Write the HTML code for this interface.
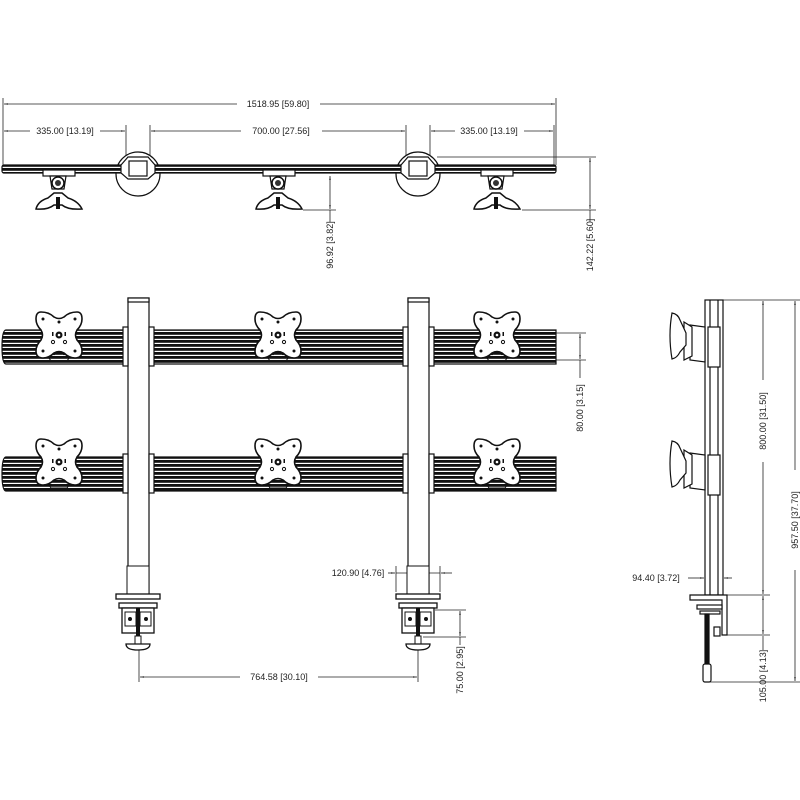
<!DOCTYPE html>
<html><head><meta charset="utf-8"><style>
html,body{margin:0;padding:0;background:#fff}
svg{display:block}
text{font-family:"Liberation Sans",sans-serif;font-size:9px;fill:#222}
</style></head><body>
<svg width="800" height="800" viewBox="0 0 800 800" xmlns="http://www.w3.org/2000/svg">
<defs>
<pattern id="st" width="8" height="4" patternUnits="userSpaceOnUse">
<rect width="8" height="4" fill="#fff"/><rect width="8" height="2.8" fill="#111"/>
</pattern>
<marker id="a" viewBox="0 0 10 10" refX="10" refY="5" markerWidth="5" markerHeight="5" orient="auto-start-reverse"><path d="M0,3 L10,5 L0,7z" fill="#222"/></marker>
<g id="plate">
<path d="M-18,-23 Q-10,-23 -5,-18 Q0,-15 5,-18 Q10,-23 18,-23 Q23,-23 23,-16 Q23,-10 18,-5 Q15,0 18,5 Q23,10 23,16 Q23,23 16,23 Q10,23 5,18 Q0,15 -5,18 Q-10,23 -16,23 Q-23,23 -23,16 Q-23,10 -18,5 Q-15,0 -18,-5 Q-23,-10 -23,-16 Q-23,-23 -18,-23z" fill="#fff" stroke="#111" stroke-width="1.6"/>
<circle cx="0" cy="0" r="3.5" fill="#111"/><circle cx="0" cy="0" r="1.3" fill="#fff"/>
<circle cx="-16" cy="-16" r="1.5" fill="#111"/><circle cx="16" cy="-16" r="1.5" fill="#111"/>
<circle cx="-16" cy="16" r="1.5" fill="#111"/><circle cx="16" cy="16" r="1.5" fill="#111"/>
<circle cx="0" cy="-13" r="1.5" fill="#111"/><circle cx="-6" cy="7" r="1.6" fill="none" stroke="#111"/><circle cx="6" cy="7" r="1.6" fill="none" stroke="#111"/>
<rect x="-7" y="-3" width="1.5" height="4" fill="#111"/><rect x="5.5" y="-3" width="1.5" height="4" fill="#111"/>
<circle cx="-5" cy="19" r="1.2" fill="#111"/><circle cx="5" cy="19" r="1.2" fill="#111"/>
<path d="M-10,23 L-8,26 L8,26 L10,23" fill="none" stroke="#111"/>
</g>
<g id="mount">
<rect x="-15" y="-3" width="32" height="6" fill="#fff" stroke="#111" stroke-width="1.2"/>
<path d="M-8,3 L8,3 L6,16 L-6,16z" fill="#fff" stroke="#111" stroke-width="1.2"/>
<circle cx="0" cy="10" r="6" fill="#fff" stroke="#111" stroke-width="1.5"/><circle cx="0" cy="10" r="3" fill="#333"/>
<path d="M-22,36 Q-20,28 -10,25 L-4,20 L4,20 L10,25 Q20,28 24,36 Q10,37 4,32 L-4,32 Q-10,37 -22,36z" fill="#fff" stroke="#111" stroke-width="1.5"/>
<rect x="-2" y="24" width="4" height="12" fill="#111"/>
</g>
<g id="clamp">
<rect x="-11" y="-32" width="22" height="30" fill="#fff" stroke="#111"/>
<rect x="-22" y="-4" width="44" height="5" fill="#fff" stroke="#111" stroke-width="1.3"/>
<rect x="-19" y="5" width="38" height="5" fill="#fff" stroke="#111" stroke-width="1.3"/>
<rect x="-16" y="10" width="32" height="25" fill="#fff" stroke="#111" stroke-width="1.3"/>
<rect x="-13" y="14" width="11" height="14" fill="#fff" stroke="#111"/><rect x="2" y="14" width="11" height="14" fill="#fff" stroke="#111"/>
<circle cx="-8" cy="21" r="2" fill="#111"/><circle cx="8" cy="21" r="2" fill="#111"/>
<rect x="-2" y="10" width="4" height="32" fill="#111"/>
<rect x="-3" y="38" width="6" height="8" fill="#fff" stroke="#111"/>
<path d="M-12,46 L12,46 Q12,52 0,52 Q-12,52 -12,46z" fill="#fff" stroke="#111" stroke-width="1.3"/>
</g>
</defs>
<g stroke="#222" stroke-width="0.8" fill="none">
<line x1="3" y1="98" x2="3" y2="170"/><line x1="556" y1="98" x2="556" y2="165"/>
<line x1="4" y1="104" x2="237" y2="104" marker-start="url(#a)"/><line x1="320" y1="104" x2="555" y2="104" marker-end="url(#a)"/>
<line x1="126" y1="125" x2="126" y2="160"/><line x1="150" y1="125" x2="150" y2="160"/>
<line x1="406" y1="125" x2="406" y2="160"/><line x1="430" y1="125" x2="430" y2="160"/><line x1="554" y1="125" x2="554" y2="165"/>
<line x1="4" y1="131" x2="30" y2="131" marker-start="url(#a)"/><line x1="100" y1="131" x2="125" y2="131" marker-end="url(#a)"/>
<line x1="151" y1="131" x2="241" y2="131" marker-start="url(#a)"/><line x1="322" y1="131" x2="405" y2="131" marker-end="url(#a)"/>
<line x1="431" y1="131" x2="455" y2="131" marker-start="url(#a)"/><line x1="524" y1="131" x2="553" y2="131" marker-end="url(#a)"/>
<line x1="303" y1="210" x2="336" y2="210"/><line x1="330" y1="176" x2="330" y2="209" marker-start="url(#a)" marker-end="url(#a)"/><line x1="330" y1="210" x2="330" y2="222"/>
<line x1="437" y1="157" x2="596" y2="157"/><line x1="522" y1="210" x2="596" y2="210"/>
<line x1="590" y1="158" x2="590" y2="209" marker-start="url(#a)" marker-end="url(#a)"/><line x1="590" y1="210" x2="590" y2="222"/>
<line x1="540" y1="333" x2="586" y2="333"/><line x1="540" y1="360" x2="586" y2="360"/>
<line x1="580" y1="334" x2="580" y2="359" marker-start="url(#a)" marker-end="url(#a)"/><line x1="580" y1="360" x2="580" y2="378"/>
<line x1="139" y1="650" x2="139" y2="682"/><line x1="418" y1="650" x2="418" y2="682"/>
<line x1="140" y1="677" x2="240" y2="677" marker-start="url(#a)"/><line x1="318" y1="677" x2="417" y2="677" marker-end="url(#a)"/>
<line x1="396" y1="566" x2="396" y2="592"/><line x1="440" y1="566" x2="440" y2="592"/>
<line x1="388" y1="573" x2="395" y2="573" marker-end="url(#a)"/><line x1="441" y1="573" x2="452" y2="573" marker-start="url(#a)"/><line x1="396" y1="573" x2="440" y2="573"/>
<line x1="435" y1="610" x2="466" y2="610"/><line x1="423" y1="637" x2="466" y2="637"/>
<line x1="460" y1="611" x2="460" y2="636" marker-start="url(#a)" marker-end="url(#a)"/><line x1="460" y1="637" x2="460" y2="645"/>
<line x1="723" y1="300" x2="800" y2="300"/><line x1="727" y1="595" x2="770" y2="595"/><line x1="727" y1="635" x2="770" y2="635"/><line x1="710" y1="682" x2="800" y2="682"/>
<line x1="763" y1="301" x2="763" y2="380" marker-start="url(#a)"/><line x1="763" y1="462" x2="763" y2="594" marker-end="url(#a)"/>
<line x1="763" y1="596" x2="763" y2="634" marker-start="url(#a)" marker-end="url(#a)"/><line x1="763" y1="636" x2="763" y2="650"/>
<line x1="795" y1="301" x2="795" y2="470" marker-start="url(#a)"/><line x1="795" y1="570" x2="795" y2="681" marker-end="url(#a)"/>
<line x1="705" y1="566" x2="705" y2="590"/><line x1="723" y1="566" x2="723" y2="590"/>
<line x1="688" y1="578" x2="704" y2="578" marker-end="url(#a)"/><line x1="724" y1="578" x2="732" y2="578" marker-start="url(#a)"/>
</g>
<g>
<text x="278" y="107" text-anchor="middle">1518.95 [59.80]</text>
<text x="65" y="134" text-anchor="middle">335.00 [13.19]</text>
<text x="281" y="134" text-anchor="middle">700.00 [27.56]</text>
<text x="489" y="134" text-anchor="middle">335.00 [13.19]</text>
<text transform="translate(333,245) rotate(-90)" text-anchor="middle">96.92 [3.82]</text>
<text transform="translate(593,245) rotate(-90)" text-anchor="middle">142.22 [5.60]</text>
<text transform="translate(583,408) rotate(-90)" text-anchor="middle">80.00 [3.15]</text>
<text x="279" y="680" text-anchor="middle">764.58 [30.10]</text>
<text x="358" y="576" text-anchor="middle">120.90 [4.76]</text>
<text transform="translate(463,670) rotate(-90)" text-anchor="middle">75.00 [2.95]</text>
<text transform="translate(766,421) rotate(-90)" text-anchor="middle">800.00 [31.50]</text>
<text transform="translate(798,520) rotate(-90)" text-anchor="middle">957.50 [37.70]</text>
<text transform="translate(766,676) rotate(-90)" text-anchor="middle">105.00 [4.13]</text>
<text x="656" y="581" text-anchor="middle">94.40 [3.72]</text>
</g>
<g stroke="#111" stroke-width="1.2">
<circle cx="138" cy="174" r="22" fill="#fff"/><circle cx="418" cy="174" r="22" fill="#fff"/>
<rect x="2" y="165" width="554" height="8" rx="2" fill="url(#st)"/>
<path d="M121,165 L128,157 L148,157 L155,165 L155,173 L148,179 L128,179 L121,173z" fill="#fff"/>
<rect x="129" y="161" width="18" height="15" fill="#fff"/>
<path d="M401,165 L408,157 L428,157 L435,165 L435,173 L428,179 L408,179 L401,173z" fill="#fff"/>
<rect x="409" y="161" width="18" height="15" fill="#fff"/>
</g>
<use href="#mount" x="58" y="173"/><use href="#mount" x="278" y="173"/><use href="#mount" x="496" y="173"/>
<g stroke="#111" stroke-width="1.2">
<path d="M6,330 L556,330 L556,364 L6,364 Q2,364 2,347 Q2,330 6,330z" fill="url(#st)"/>
<path d="M6,457 L556,457 L556,491 L6,491 Q2,491 2,474 Q2,457 6,457z" fill="url(#st)"/>
<rect x="128" y="298" width="21" height="295" fill="#fff"/>
<rect x="408" y="298" width="21" height="295" fill="#fff"/>
<rect x="128" y="298" width="21" height="4" fill="#fff"/><rect x="408" y="298" width="21" height="4" fill="#fff"/>
<rect x="123" y="327" width="5" height="39" fill="#fff"/><rect x="149" y="327" width="5" height="39" fill="#fff"/>
<rect x="403" y="327" width="5" height="39" fill="#fff"/><rect x="429" y="327" width="5" height="39" fill="#fff"/>
<rect x="123" y="454" width="5" height="39" fill="#fff"/><rect x="149" y="454" width="5" height="39" fill="#fff"/>
<rect x="403" y="454" width="5" height="39" fill="#fff"/><rect x="429" y="454" width="5" height="39" fill="#fff"/>
</g>
<use href="#plate" x="59" y="335"/><use href="#plate" x="278" y="335"/><use href="#plate" x="497" y="335"/>
<use href="#plate" x="59" y="462"/><use href="#plate" x="278" y="462"/><use href="#plate" x="497" y="462"/>
<use href="#clamp" x="138" y="598"/><use href="#clamp" x="418" y="598"/>
<g stroke="#111" stroke-width="1.2" fill="#fff">
<rect x="705" y="300" width="18" height="295"/>
<line x1="710" y1="300" x2="710" y2="595"/><line x1="718" y1="300" x2="718" y2="595"/>
<rect x="708" y="327" width="12" height="40"/><rect x="708" y="455" width="12" height="40"/>
<path d="M690,325 L705,327 L705,362 L690,360z"/><path d="M690,453 L705,455 L705,490 L690,488z"/>
<path d="M684,322 L692,327 L692,356 L684,360z"/><path d="M684,450 L692,455 L692,484 L684,488z"/>
<path d="M672,313 Q678,314 680,320 L686,333 L686,345 L680,352 Q677,358 672,359 Q668,335 672,313z"/>
<path d="M672,441 Q678,442 680,448 L686,461 L686,473 L680,480 Q677,486 672,487 Q668,463 672,441z"/>
<path d="M690,595 L727,595 L727,635 L722,635 L722,600 L690,600z"/>
<rect x="697" y="605" width="25" height="4"/><rect x="700" y="611" width="20" height="3"/>
<rect x="705" y="614" width="4" height="50" fill="#111"/>
<rect x="703" y="664" width="8" height="18" rx="2"/>
<rect x="714" y="627" width="6" height="9"/>
</g>
</svg>
</body></html>
